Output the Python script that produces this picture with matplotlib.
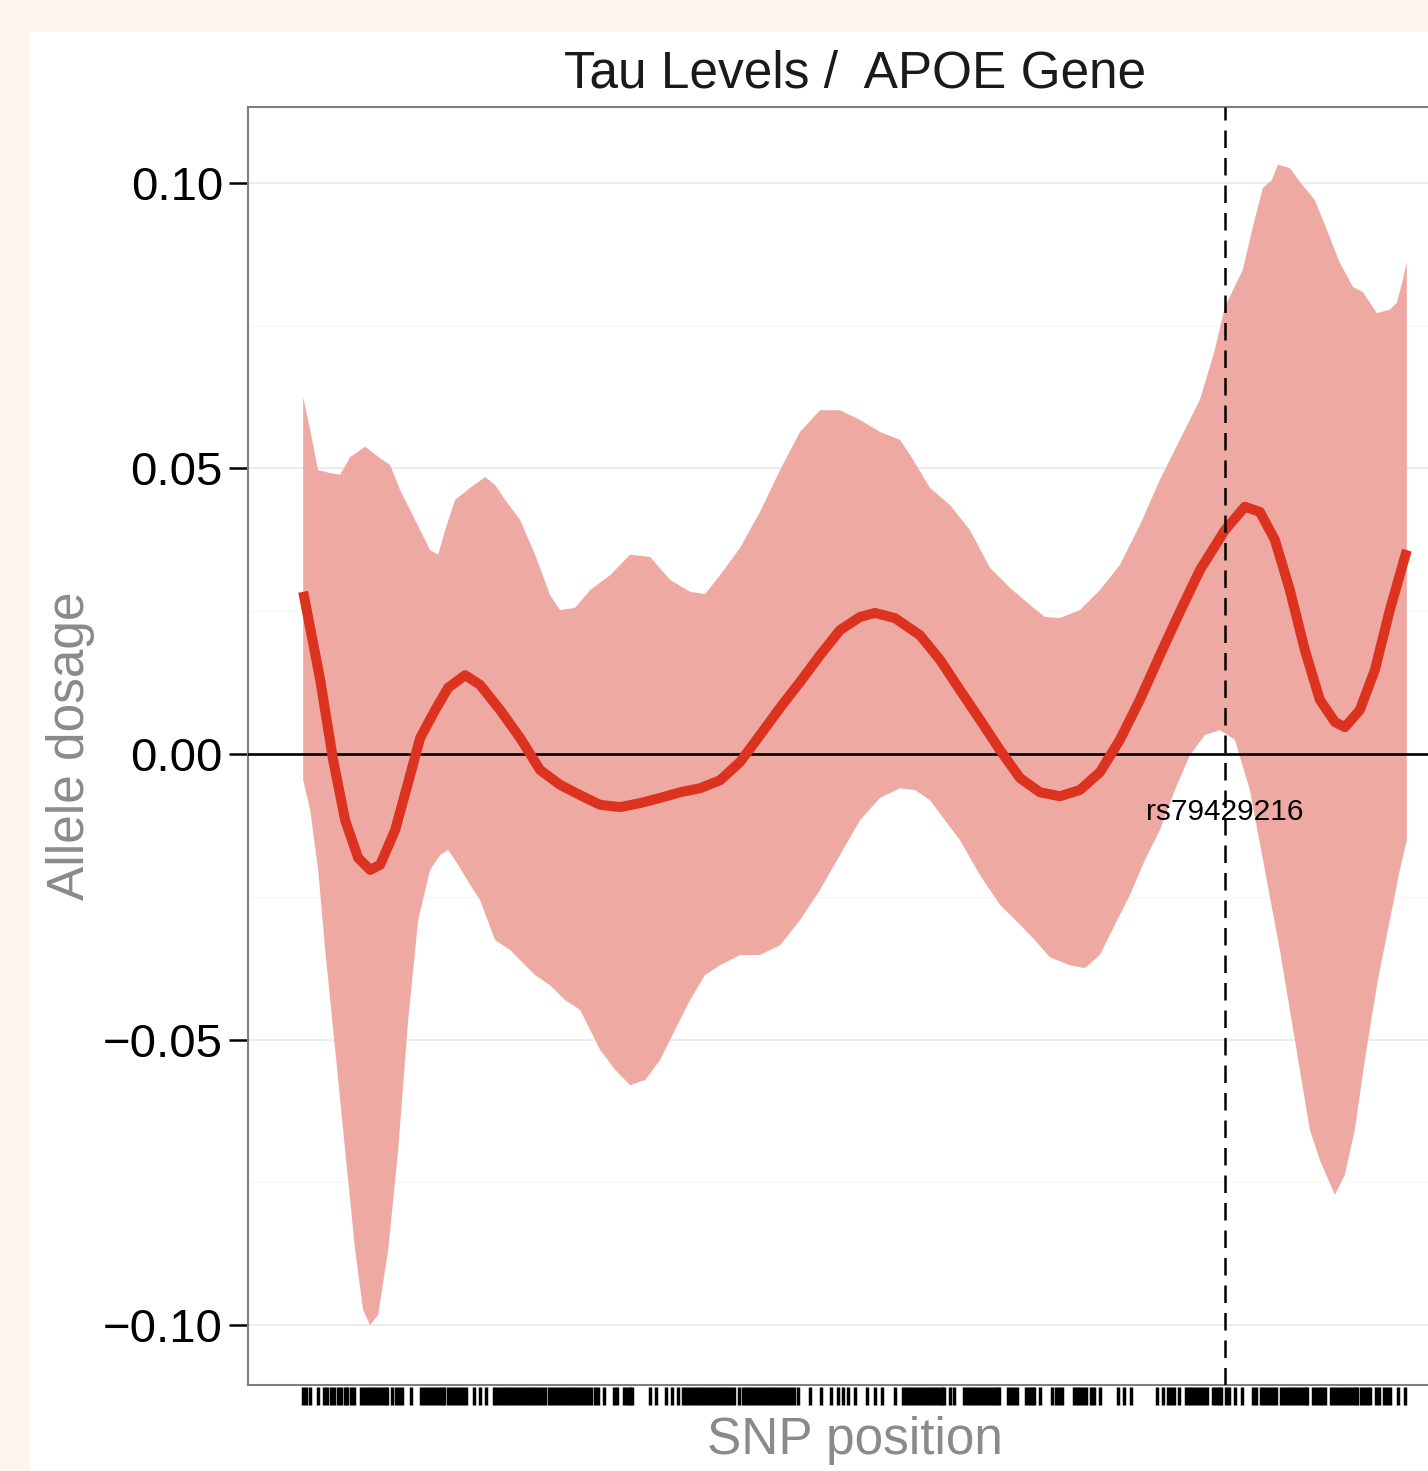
import numpy as np
import matplotlib
matplotlib.use("Agg")
import matplotlib.pyplot as plt
from matplotlib.patches import Rectangle
from matplotlib.ticker import FixedLocator

plt.rcParams['font.family'] = ['Liberation Sans', 'DejaVu Sans']

# positions in kb from the first SNP
mean_x = [0, 1.7, 3.0, 4.2, 5.5, 6.7, 7.7, 9.2, 10.7, 11.7, 13.2, 14.5, 16.2, 17.7, 19.7,
          21.7, 23.7, 25.7, 27.7, 29.7, 31.7, 33.7, 35.7, 37.7, 39.7, 41.7, 43.7, 45.7,
          47.7, 49.7, 51.7, 53.7, 55.7, 57.2, 59.2, 61.7, 63.7, 65.7, 67.7, 69.7, 71.7,
          73.7, 75.7, 77.7, 79.7, 81.7, 83.7, 85.7, 87.7, 89.7, 92.2, 94.2, 95.7, 97.2,
          98.7, 100.2, 101.7, 103.2, 104.2, 105.7, 107.2, 108.7, 110.4]
mean_y = [0.0284, 0.0130, -0.0011, -0.0116, -0.0182, -0.0203, -0.0194, -0.0133, -0.0037,
          0.0028, 0.0077, 0.0116, 0.0138, 0.0121, 0.0077, 0.0028, -0.0028, -0.0054,
          -0.0072, -0.0089, -0.0093, -0.0086, -0.0077, -0.0067, -0.0060, -0.0046, -0.0014,
          0.0033, 0.0081, 0.0126, 0.0173, 0.0217, 0.0240, 0.0247, 0.0238, 0.0208, 0.0165,
          0.0112, 0.0060, 0.0007, -0.0042, -0.0067, -0.0074, -0.0063, -0.0032, 0.0025,
          0.0095, 0.0173, 0.0249, 0.0322, 0.0392, 0.0433, 0.0424, 0.0375, 0.0287, 0.0182,
          0.0095, 0.0056, 0.0047, 0.0077, 0.0147, 0.0252, 0.0357]

upper_x = [0, 0.7, 1.5, 2.7, 3.7, 4.7, 6.2, 7.7, 8.7, 9.7, 10.7, 11.7, 12.7, 13.5, 14.2,
           15.2, 16.7, 18.2, 19.2, 20.2, 21.7, 23.2, 24.7, 25.7, 27.2, 28.7, 30.7, 32.7,
           34.7, 36.7, 38.7, 40.2, 41.7, 43.7, 45.7, 47.7, 49.7, 51.7, 53.7, 55.7, 57.7,
           59.7, 60.7, 62.7, 64.7, 66.7, 68.7, 70.7, 72.7, 74.2, 75.7, 77.7, 79.7, 81.7,
           83.7, 85.7, 87.7, 89.7, 91.2, 92.2, 94.0, 95.0, 96.0, 96.9, 97.5, 98.7, 99.7,
           101.2, 102.4, 103.7, 105.0, 106.0, 107.4, 108.7, 109.4, 110.0, 110.4]
upper_y = [0.0625, 0.0567, 0.0497, 0.0492, 0.0489, 0.0520, 0.0538, 0.0518, 0.0506, 0.0462,
           0.0427, 0.0392, 0.0357, 0.0349, 0.0392, 0.0445, 0.0466, 0.0485, 0.0471, 0.0445,
           0.0410, 0.0349, 0.0278, 0.0252, 0.0256, 0.0287, 0.0313, 0.0349, 0.0345, 0.0305,
           0.0284, 0.0280, 0.0313, 0.0361, 0.0424, 0.0497, 0.0564, 0.0602, 0.0602, 0.0585,
           0.0564, 0.0550, 0.0524, 0.0466, 0.0436, 0.0392, 0.0326, 0.0291, 0.0261, 0.0240,
           0.0238, 0.0252, 0.0287, 0.0331, 0.0401, 0.0480, 0.0550, 0.0620, 0.0708, 0.0783,
           0.0848, 0.0923, 0.0991, 0.1005, 0.1032, 0.1026, 0.1002, 0.0970, 0.0918, 0.0860,
           0.0818, 0.0809, 0.0772, 0.0778, 0.0790, 0.0830, 0.0862]

lower_x = [0, 0.7, 1.5, 2.2, 3.2, 4.2, 5.2, 6.0, 6.7, 7.5, 8.5, 9.5, 10.5, 11.5, 12.7,
           13.7, 14.5, 15.5, 16.7, 17.7, 19.2, 20.7, 21.7, 23.2, 24.7, 26.2, 27.7, 28.7,
           29.7, 31.2, 32.7, 34.2, 35.7, 37.2, 38.7, 40.2, 41.7, 43.7, 45.7, 47.7, 49.7,
           51.7, 53.7, 55.7, 57.7, 59.7, 61.2, 62.7, 64.2, 65.7, 67.7, 69.7, 71.7, 73.2,
           74.7, 76.7, 78.2, 79.7, 81.2, 82.7, 84.2, 85.7, 87.2, 88.7, 90.2, 91.7, 93.2,
           94.7, 96.2, 97.7, 99.2, 100.7, 101.7, 103.2, 104.2, 105.2, 106.2, 107.5, 108.7,
           109.7, 110.4]
lower_y = [-0.0046, -0.0098, -0.0203, -0.0343, -0.0518, -0.0694, -0.0869, -0.0974, -0.1000,
           -0.0982, -0.0869, -0.0694, -0.0466, -0.0291, -0.0203, -0.0177, -0.0168, -0.0194,
           -0.0229, -0.0256, -0.0326, -0.0343, -0.0361, -0.0387, -0.0405, -0.0431, -0.0448,
           -0.0483, -0.0518, -0.0553, -0.0580, -0.0571, -0.0536, -0.0483, -0.0431, -0.0387,
           -0.0370, -0.0352, -0.0352, -0.0335, -0.0291, -0.0238, -0.0177, -0.0116, -0.0077,
           -0.0060, -0.0063, -0.0081, -0.0116, -0.0151, -0.0212, -0.0264, -0.0299, -0.0326,
           -0.0356, -0.0370, -0.0375, -0.0352, -0.0299, -0.0247, -0.0186, -0.0133, -0.0063,
           -0.0002, 0.0033, 0.0042, 0.0025, -0.0063, -0.0203, -0.0343, -0.0501, -0.0658,
           -0.0711, -0.0772, -0.0737, -0.0658, -0.0536, -0.0396, -0.0291, -0.0203, -0.0151]

snp_pos = [0.0, 0.3, 0.7, 1.5, 2.1, 2.4, 2.8, 3.1, 3.5, 3.8, 4.2, 4.4, 4.8, 5.1,
           5.8, 6.1, 6.4, 6.7, 7.0, 7.3, 7.6, 7.9, 8.2, 8.4, 8.9, 9.3, 9.6, 9.9, 10.8,
           11.8, 12.1, 12.4, 12.7, 13.0, 13.3, 13.6, 13.9, 14.1, 14.5, 14.8, 15.1, 15.4,
           15.7, 16.0, 16.3, 17.1, 17.7, 18.3,
           19.1, 19.4, 19.7, 20.0, 20.3, 20.6, 20.9, 21.2, 21.5, 21.8, 22.1, 22.4, 22.7,
           23.0, 23.3, 23.6, 23.9, 24.2, 24.6, 24.9, 25.2, 25.5, 25.8, 26.1, 26.4, 26.7,
           27.0, 27.3, 27.6, 27.9, 28.2, 28.5, 28.8, 29.2, 29.5, 30.1, 31.1, 31.4, 32.1,
           32.4, 32.7, 32.9, 34.7, 35.3, 36.3, 36.9,
           37.5, 38.0, 38.3, 38.6, 38.9, 39.2, 39.5, 39.8, 40.1, 40.4, 40.7, 41.0, 41.3,
           41.6, 41.9, 42.2, 42.5, 42.8, 43.1, 43.6, 44.0, 44.3, 44.6, 44.9, 45.2, 45.5,
           45.8, 46.1, 46.4, 46.7, 47.0, 47.3, 47.6, 47.9, 48.2, 48.5, 48.8, 49.1, 49.5,
           50.7, 51.8, 52.8, 53.5, 54.0, 54.5, 55.2,
           56.4, 57.2, 57.9, 59.2, 60.0, 60.3, 60.6, 60.9, 61.2, 61.5, 61.8, 62.1, 62.4,
           62.7, 63.0, 63.3, 63.6, 63.9, 64.1, 64.7, 65.1, 66.1, 66.4, 66.7, 67.0, 67.3,
           67.6, 67.9, 68.2, 68.5, 68.8, 69.1, 69.4, 69.6, 70.5, 70.8, 71.1, 71.4, 72.3,
           72.6, 72.9, 73.1, 73.7, 74.9,
           75.3, 75.6, 75.9, 77.1, 77.4, 77.7, 78.0, 78.3, 78.8, 79.1, 79.7, 81.5, 82.1,
           82.8, 85.4, 86.0, 86.5, 86.8, 87.1, 87.6, 88.3, 88.6, 88.9, 89.2, 89.5, 89.8,
           90.1, 90.4, 91.0, 91.3, 91.6, 91.8, 92.3, 92.6, 93.2, 93.9,
           95.0, 95.3, 95.8, 96.1, 96.4, 96.7, 97.0, 97.3, 97.8, 98.1, 98.4, 98.7, 99.0,
           99.3, 99.6, 99.9, 100.2, 100.4, 101.0, 101.3, 101.6, 101.9, 102.2, 102.8,
           103.1, 103.4, 103.7, 104.0, 104.3, 104.6, 104.9, 105.2, 105.4, 105.8, 106.1,
           106.4, 106.7, 107.3, 107.6, 108.1, 108.4, 108.7, 109.5, 110.2]

marker_snp = "rs79429216"
marker_pos = 92.2
y_ticks = [-0.10, -0.05, 0.00, 0.05, 0.10]
y_tick_labels = ["\u22120.10", "\u22120.05", "0.00", "0.05", "0.10"]

W, H = 1428, 1471
fig = plt.figure(figsize=(W / 100, H / 100), dpi=100)
fig.patch.set_facecolor('#FDF4EE')
fig.patches.append(Rectangle((30 / W, 0), 1 - 30 / W, (H - 32) / H,
                             transform=fig.transFigure, facecolor='white',
                             edgecolor='none', zorder=-5))

ax = fig.add_axes([248 / W, (H - 1385) / H, 1214 / W, 1278 / H])
ax.set_zorder(2)
ax.set_facecolor('white')

# confidence band
band_x = np.concatenate([upper_x, lower_x[::-1]])
band_y = np.concatenate([upper_y, lower_y[::-1]])
ax.fill(band_x, band_y, color='#EFA9A3', lw=0, zorder=2)

ax.axhline(0, color='black', lw=1.9, zorder=3)
ax.plot(mean_x, mean_y, color='#DC3320', lw=7.2, solid_capstyle='butt',
        solid_joinstyle='round', zorder=4)

ax.axvline(marker_pos, color='black', lw=1.8, ls=(0, (7, 4)), zorder=5)
ax.text(marker_pos, -0.0102, marker_snp, ha='center', va='center', fontsize=21.5,
        color='black', zorder=6)

# rug of SNP positions below the panel
ax.vlines(snp_pos, -0.0016, -0.0156, transform=ax.get_xaxis_transform(),
          color='black', lw=2.5, clip_on=False)

ax.set_xlim(-5.52, 115.92)
ax.set_ylim(-0.1105, 0.1133)

ax.set_yticks(y_ticks)
ax.set_yticklabels(y_tick_labels)
ax.yaxis.set_minor_locator(FixedLocator([-0.075, -0.025, 0.025, 0.075]))
ax.set_xticks([])
ax.tick_params(axis='y', which='major', length=14, width=1.8, labelsize=34,
               pad=4, colors='black')
ax.tick_params(axis='y', which='minor', length=0)
ax.grid(axis='y', which='major', color='#EBEBEB', lw=1.3, zorder=1)
ax.grid(axis='y', which='minor', color='#F6F6F6', lw=1.0, zorder=1)
ax.set_axisbelow(True)

for s in ax.spines.values():
    s.set_color('#7F7F7F')
    s.set_linewidth(1.5)

ax.set_title("Tau Levels /  APOE Gene", fontsize=37, pad=14, color='#1a1a1a')
ax.set_xlabel("SNP position", fontsize=37, color='#8A8A8A', labelpad=22)
ax.set_ylabel("Allele dosage", fontsize=37, color='#8A8A8A', labelpad=6)

fig.savefig('out.png', dpi=100, facecolor=fig.get_facecolor())
